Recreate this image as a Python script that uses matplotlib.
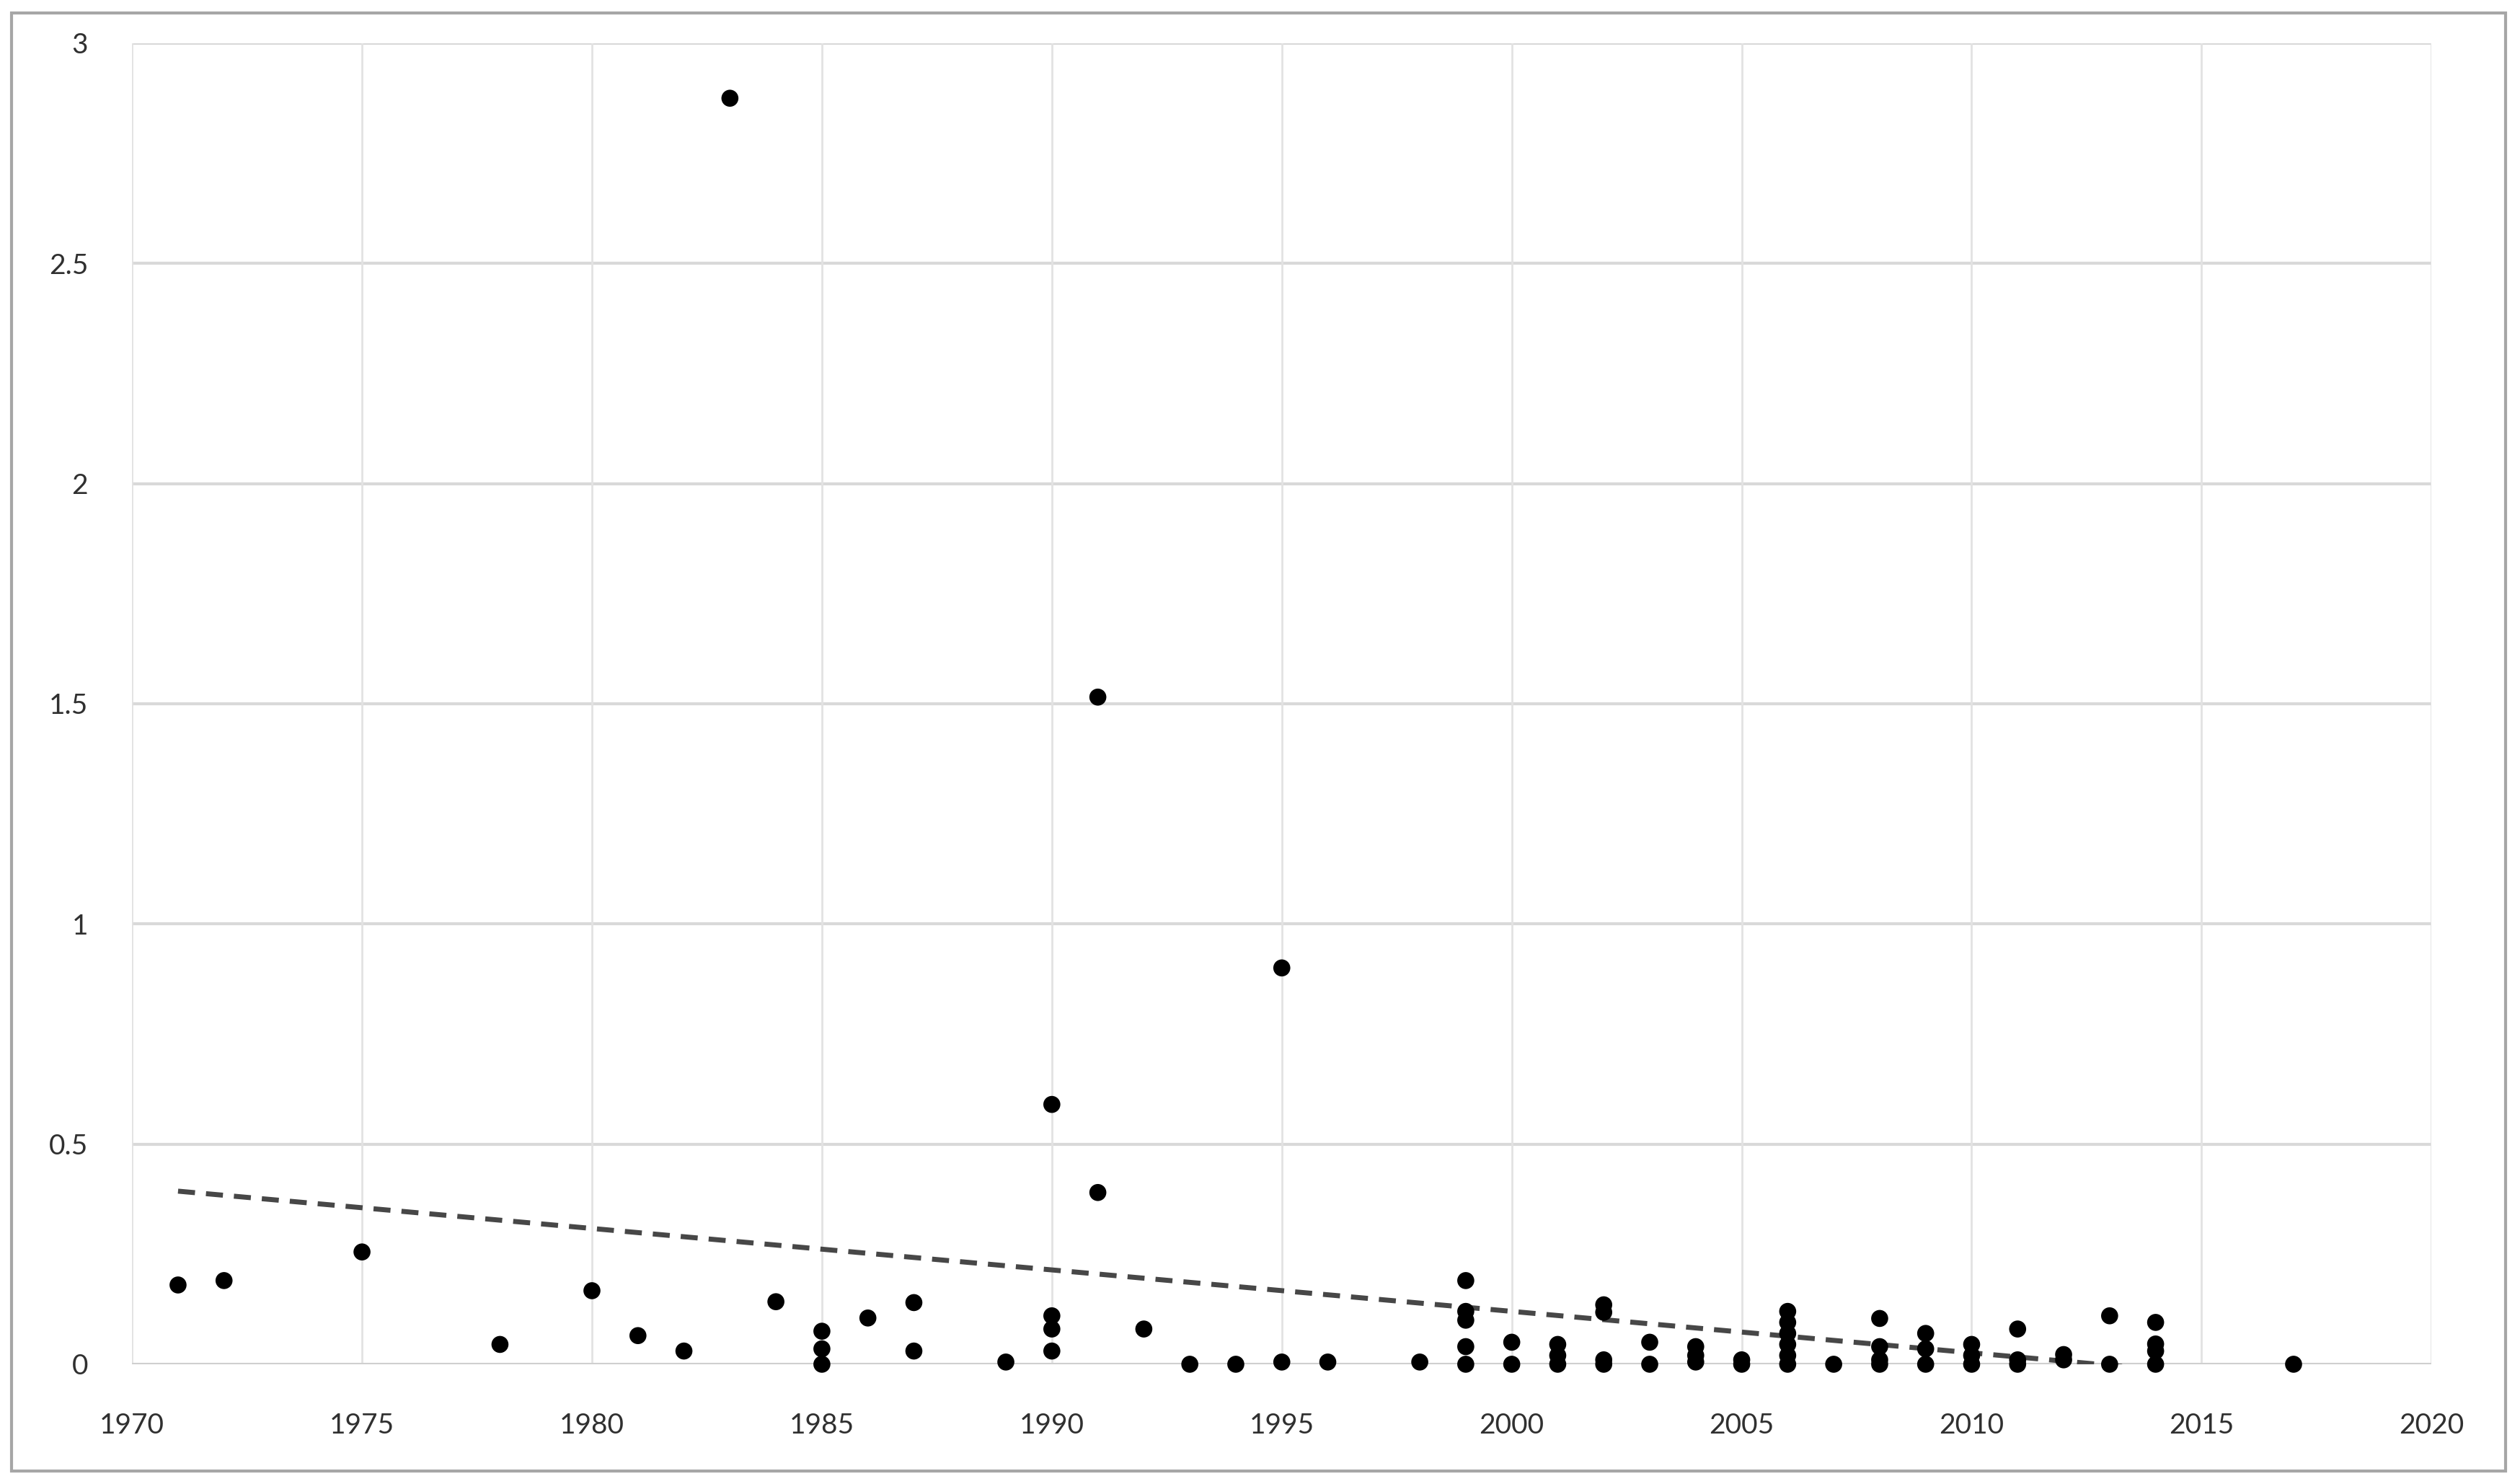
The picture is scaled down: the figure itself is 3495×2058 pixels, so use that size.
import numpy as np
import matplotlib
matplotlib.use('Agg')
import matplotlib.pyplot as plt
from matplotlib.patches import Rectangle

# values (year, value); stacked points listed per year
years = [1971, 1972, 1975, 1978, 1980, 1981, 1982, 1983, 1984,
         1985, 1985, 1985, 1986, 1987, 1987, 1989,
         1990, 1990, 1990, 1990, 1991, 1991, 1992, 1993, 1994,
         1995, 1995, 1996, 1998,
         1999, 1999, 1999, 1999, 1999, 2000, 2000,
         2001, 2001, 2001, 2002, 2002, 2002, 2002, 2003, 2003,
         2004, 2004, 2004, 2005, 2005,
         2006, 2006, 2006, 2006, 2006, 2006, 2007,
         2008, 2008, 2008, 2008, 2009, 2009, 2009,
         2010, 2010, 2010, 2011, 2011, 2011, 2012, 2012,
         2013, 2013, 2014, 2014, 2014, 2014, 2017]
values = [0.18, 0.19, 0.255, 0.045, 0.167, 0.065, 0.03, 2.875, 0.142,
          0.075, 0.035, 0.0, 0.105, 0.14, 0.03, 0.005,
          0.59, 0.11, 0.08, 0.03, 1.515, 0.39, 0.08, 0.0, 0.0,
          0.90, 0.005, 0.005, 0.005,
          0.19, 0.12, 0.10, 0.04, 0.0, 0.05, 0.0,
          0.045, 0.02, 0.0, 0.135, 0.118, 0.01, 0.0, 0.05, 0.0,
          0.04, 0.02, 0.005, 0.01, 0.0,
          0.12, 0.095, 0.07, 0.045, 0.02, 0.0, 0.0,
          0.104, 0.04, 0.01, 0.0, 0.07, 0.035, 0.0,
          0.045, 0.02, 0.0, 0.08, 0.01, 0.0, 0.022, 0.01,
          0.11, 0.0, 0.095, 0.046, 0.03, 0.0, 0.0]

x_ticks = [1970, 1975, 1980, 1985, 1990, 1995, 2000, 2005, 2010, 2015, 2020]
y_ticks = [0, 0.5, 1, 1.5, 2, 2.5, 3]
y_labels = ['0', '0.5', '1', '1.5', '2', '2.5', '3']

plt.rcParams['font.family'] = ['Lato', 'DejaVu Sans']

fig = plt.figure(figsize=(34.95, 20.58), dpi=100)
ax = fig.add_axes([0.0524, 0.0807, 0.9125, 0.8902])

x = np.array(years, dtype=float)
y = np.array(values)

# linear trendline over the data range, like Excel
k, b = np.polyfit(x, y, 1)
xt = np.array([x.min(), x.max()])
ax.plot(xt, k * xt + b, color='#474747', lw=5, dashes=(3.4, 2.2), zorder=3)

ax.scatter(x, y, s=17**2, color='black', edgecolors='none', zorder=4, clip_on=False)

ax.set_xlim(1970, 2020)
ax.set_ylim(0, 3)
ax.set_xticks(x_ticks)
ax.set_yticks(y_ticks)
ax.set_yticklabels(y_labels)

for yt in y_ticks:
    ax.axhline(yt, color='#d9d9d9', lw=3, zorder=1)
for xv in x_ticks:
    ax.axvline(xv, color='#e2e2e2', lw=2, zorder=1)
ax.axhline(0, color='#cfcfcf', lw=3.5, zorder=2)

for s in ax.spines.values():
    s.set_visible(False)
ax.tick_params(axis='both', length=0, labelsize=28, colors='#303030')
ax.tick_params(axis='x', pad=48)
ax.tick_params(axis='y', pad=44)

# chart border
fig.patches.append(Rectangle((0.0046, 0.0087), 0.9897, 0.9825, transform=fig.transFigure,
                             fill=False, edgecolor='#a6a6a6', lw=3))

fig.savefig('out.png', dpi=100, facecolor='white')
